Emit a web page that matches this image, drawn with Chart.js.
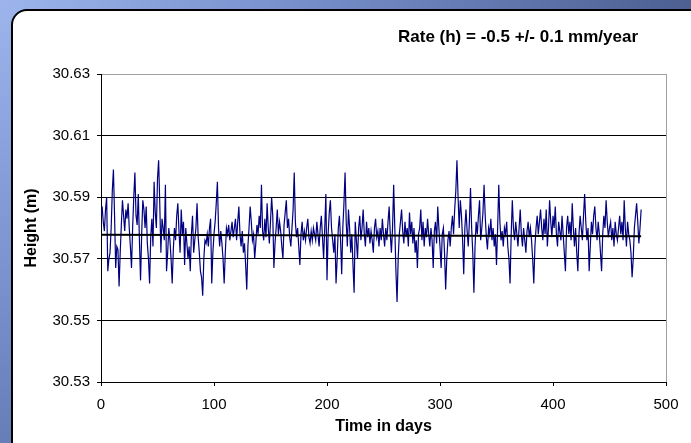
<!DOCTYPE html>
<html>
<head>
<meta charset="utf-8">
<title>Height time series</title>
<script src="https://cdn.jsdelivr.net/npm/chart.js@4.4.1/dist/chart.umd.min.js"></script>
<style>
	html,body{margin:0;padding:0;}
	body{
		width:691px;height:443px;overflow:hidden;position:relative;
		background:radial-gradient(circle at 0 0,#9db5ec 0,#748cc8 320px,#4a5c8d 720px);
	}
	#panel{
		position:absolute;left:11px;top:9px;width:740px;height:480px;
		background:#fff;border:2px solid #000;border-radius:16px;box-sizing:border-box;
	}
	#chartHeight{position:absolute;left:0;top:0;}
</style>
</head>
<body>
<div id="panel"></div>
<canvas id="chartHeight" width="691" height="443"></canvas>
<script>
	// daily heights, in mm above 30.500 m (day 0 .. 478)
	var heightMm = [
		84,87,82,79,86,90,66,70,72,80,
		92,99,84,67,74,73,61,72,81,89,
		84,79,86,83,88,80,74,67,80,90,
		98,84,81,91,76,63,78,89,86,80,
		87,75,70,62,77,83,74,95,85,80,
		96,102,88,72,83,80,76,94,66,72,
		80,76,70,62,73,80,76,84,88,79,
		72,86,78,82,68,80,75,70,74,66,
		78,84,72,76,80,88,77,72,66,64,
		58,70,76,75,78,74,80,83,62,72,
		78,82,88,95,80,74,79,75,70,62,
		72,80,78,81,76,79,82,77,80,83,
		76,82,87,78,74,79,72,75,68,60,
		74,80,87,82,76,78,70,75,81,78,
		84,80,94,79,76,83,77,88,80,75,
		82,90,84,67,75,80,86,78,82,79,
		74,70,81,85,89,80,83,77,74,80,
		86,98,82,77,80,74,68,78,82,76,
		79,76,80,83,77,75,79,76,80,78,
		76,82,78,74,80,84,77,70,80,91,
		63,78,85,89,80,76,72,78,62,70,
		80,84,76,65,80,88,98,82,74,86,
		80,72,78,68,59,82,76,70,80,84,
		76,80,86,78,74,82,77,80,75,79,
		76,72,80,83,77,79,74,80,76,83,
		78,74,80,76,82,87,78,72,80,94,
		80,66,56,70,78,82,86,79,75,82,
		77,80,74,85,78,82,75,80,72,76,
		67,78,80,86,76,82,74,80,77,83,
		78,74,80,76,67,79,82,75,87,80,
		74,67,78,80,72,60,70,76,79,74,
		80,84,78,86,92,102,90,80,89,84,
		76,65,80,86,79,74,82,93,80,72,
		59,74,82,78,84,89,76,80,85,94,
		84,77,73,80,78,83,76,80,74,78,
		68,80,94,82,76,79,74,80,78,82,
		74,70,62,78,89,80,76,82,78,74,
		80,86,78,74,80,76,72,79,82,77,
		80,76,70,62,74,80,84,78,82,86,
		80,76,83,78,86,74,80,89,82,77,
		84,80,87,78,74,82,79,76,84,78,
		72,66,80,84,78,82,76,88,80,74,
		80,72,66,78,84,80,76,84,91,82,
		76,80,66,74,82,78,84,87,80,76,
		82,78,72,66,78,84,80,89,82,77,
		80,82,76,80,74,82,78,76,80,84,
		78,82,76,89,80,74,82,78,76,72,
		64,70,80,84,88,82,75,80,86
	];
	// fitted line end points (day, height in m)
	var trendDays = [0, 478];
	var trendHeights = [30.5778, 30.5773];
	var xTicks = [0, 100, 200, 300, 400, 500];
	var yTicks = [30.53, 30.55, 30.57, 30.59, 30.61, 30.63];
	var rateText = "Rate (h) = -0.5 +/- 0.1 mm/year";

	var fontFamily = "'Liberation Sans', Arial, sans-serif";

	var seriesPoints = heightMm.map(function(mm, day){
		return {x: day, y: 30.5 + mm / 1000};
	});
	var trendPoints = trendDays.map(function(d, i){
		return {x: d, y: trendHeights[i]};
	});

	//DRAW THE RATE LABEL AT TOP RIGHT
	var rateLabel = {
		id: "rateLabel",
		afterDraw: function(chart){
			var c = chart.ctx;
			c.save();
			c.font = "bold 17px " + fontFamily;
			c.fillStyle = "#000";
			c.textAlign = "left";
			c.textBaseline = "middle";
			c.fillText(rateText, 398, 37);
			c.restore();
		}
	};

	var ctx = document.getElementById("chartHeight");
	var heightChart = new Chart(ctx, {
		type: "line",
		data: {
			datasets: [
				{label: "Trend", data: trendPoints, borderColor: "#000", borderWidth: 2, pointRadius: 0, fill: false},
				{label: "Height", data: seriesPoints, borderColor: "#000080", borderWidth: 1.2, pointRadius: 0, fill: false, tension: 0}
			]
		},
		options: {
			responsive: false,
			animation: false,
			layout: {padding: {top: 74, right: 25, bottom: 0, left: 0}},
			plugins: {legend: {display: false}, tooltip: {enabled: false}},
			scales: {
				x: {
					type: "linear",
					min: xTicks[0], max: xTicks[xTicks.length - 1],
					afterBuildTicks: function(s){ s.ticks = xTicks.map(function(v){ return {value: v}; }); },
					ticks: {color: "#000", font: {family: fontFamily, size: 15}, padding: 10, maxRotation: 0},
					grid: {
						color: function(c){ return c.index === xTicks.length - 1 ? "#a0a0a0" : "rgba(0,0,0,0)"; },
						tickColor: "#000", tickLength: 4
					},
					border: {color: "#000", width: 1},
					title: {display: true, text: "Time in days", color: "#000",
						font: {family: fontFamily, size: 16, weight: "bold"}, padding: {top: 0, bottom: 7}},
					afterFit: function(s){ s.height = 61; s.paddingLeft = 0; s.paddingRight = 0; }
				},
				y: {
					min: yTicks[0], max: yTicks[yTicks.length - 1],
					afterBuildTicks: function(s){ s.ticks = yTicks.map(function(v){ return {value: v}; }); },
					ticks: {color: "#000", font: {family: fontFamily, size: 15}, padding: 7,
						callback: function(v){ return Number(v).toFixed(2); }},
					grid: {
						color: function(c){ return c.index === yTicks.length - 1 ? "#a0a0a0" : "#000"; },
						tickColor: "#000", tickLength: 4
					},
					border: {color: "#000", width: 1},
					title: {display: true, text: "Height (m)", color: "#000",
						font: {family: fontFamily, size: 16, weight: "bold"}, padding: {top: 22, bottom: 0}},
					afterFit: function(s){ s.width = 101; s.paddingTop = 0; s.paddingBottom = 0; }
				}
			}
		},
		plugins: [rateLabel]
	});
</script>
</body>
</html>
